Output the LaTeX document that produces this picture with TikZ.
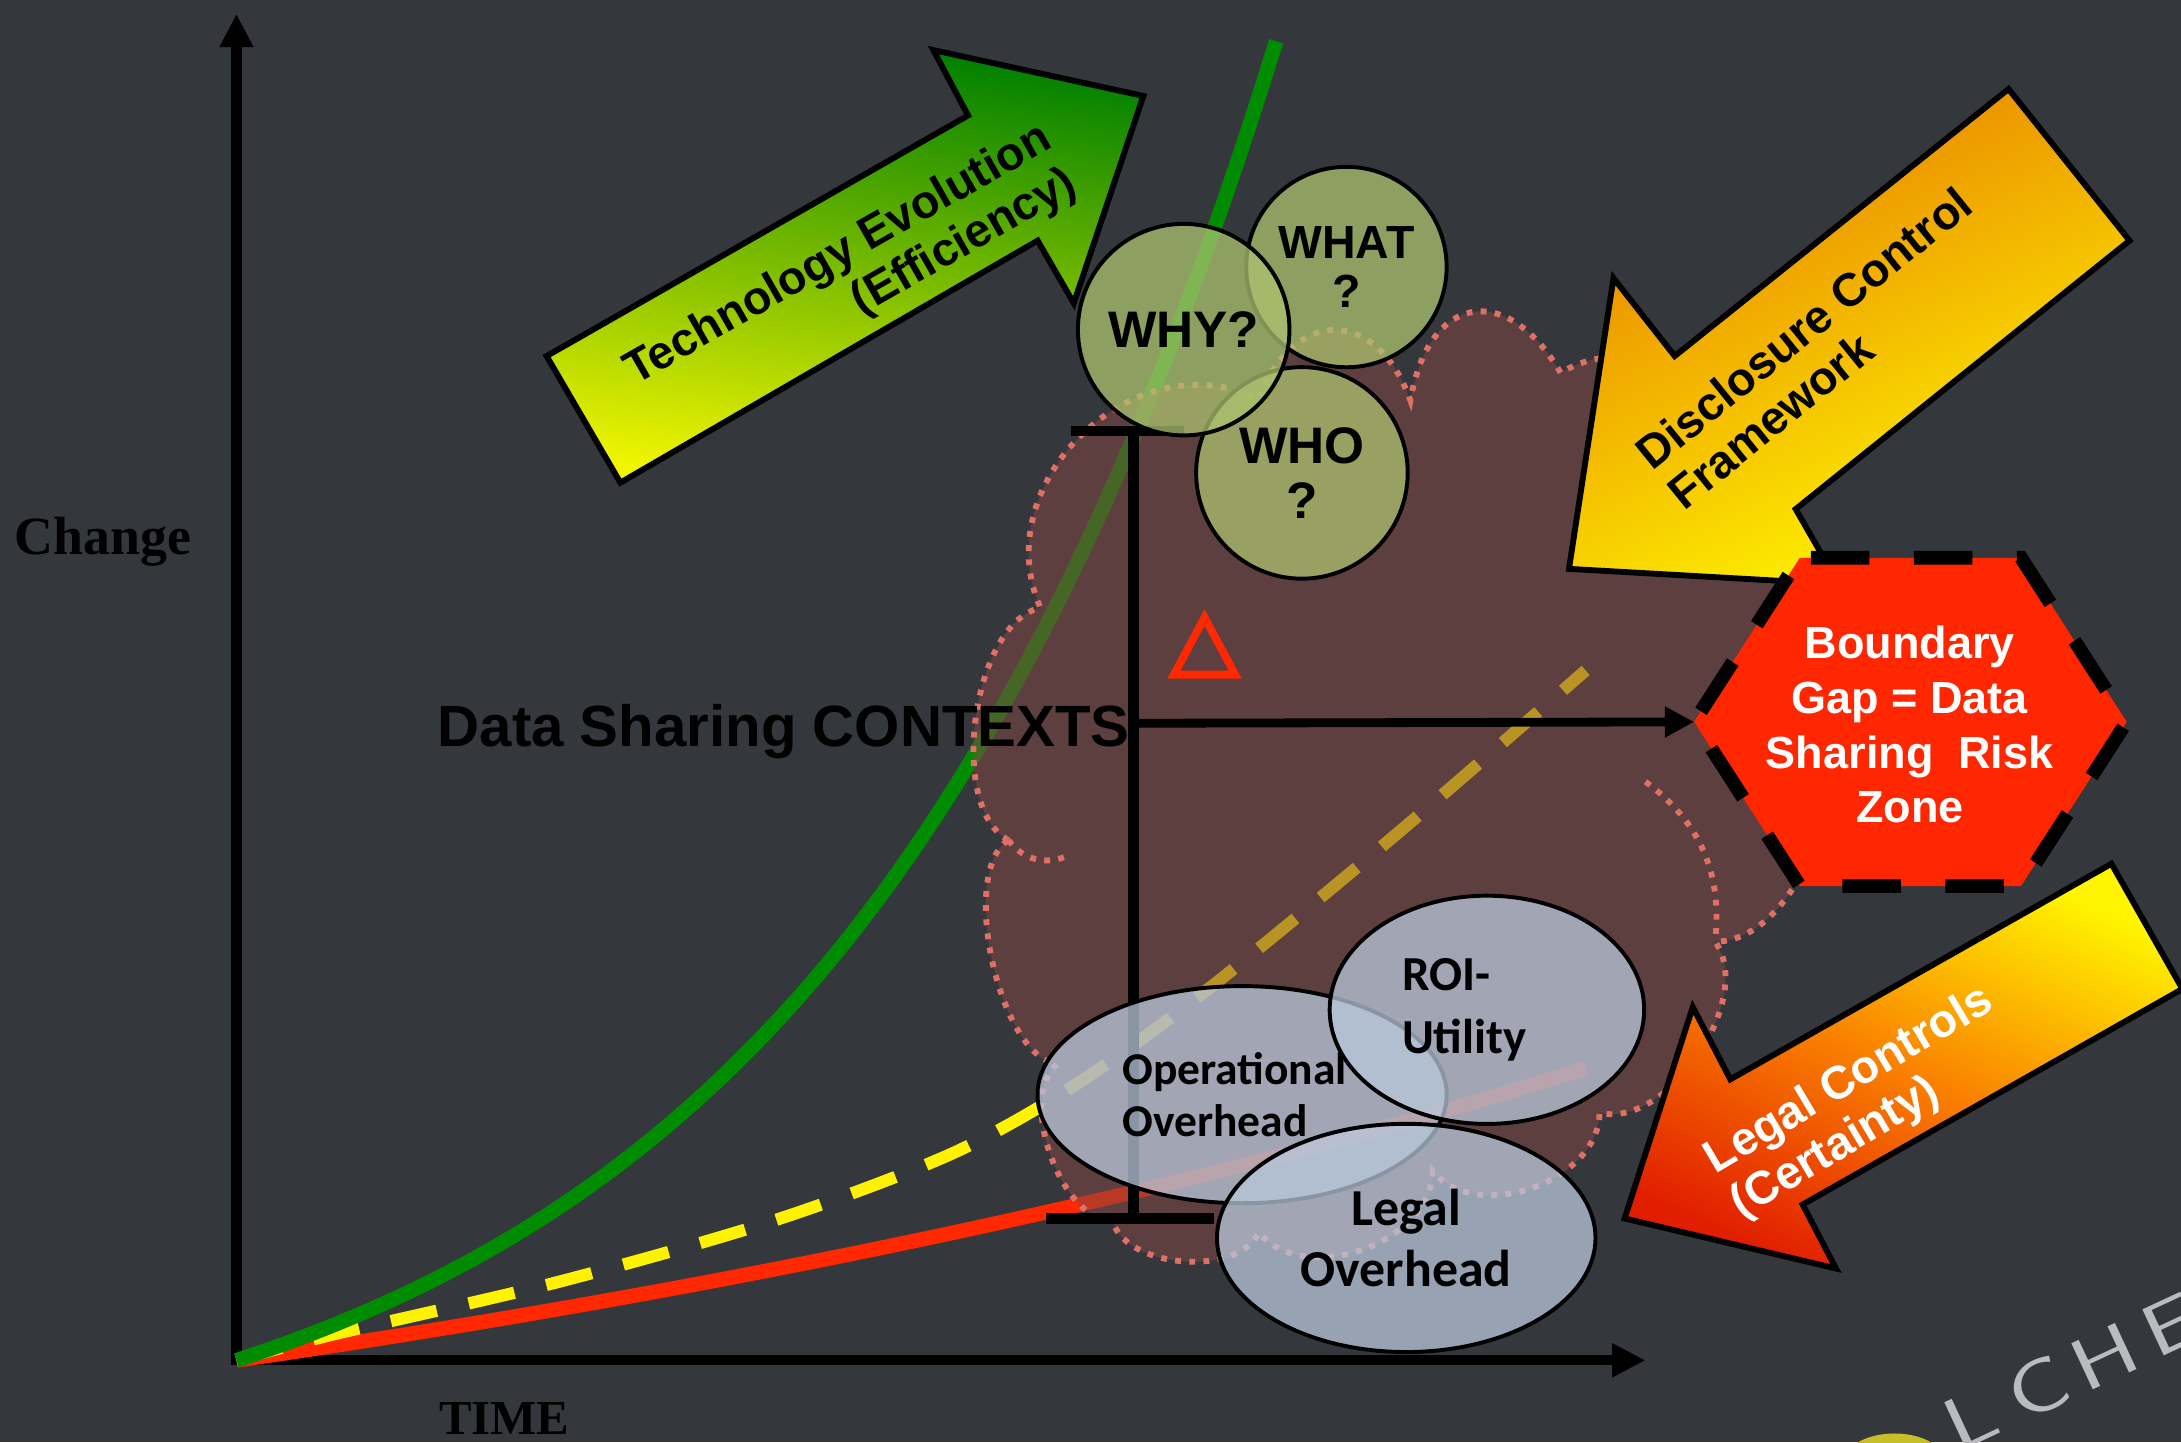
\documentclass[tikz,border=0pt]{standalone}
\usepackage{fontspec}
\setmainfont{Liberation Sans}
\newfontfamily\calfont{Carlito}
\newfontfamily\axisfont{Liberation Serif}
\usetikzlibrary{arrows.meta, shapes.geometric}

\definecolor{bgslate}{RGB}{52,55,59}
\definecolor{curvegreen}{RGB}{0,140,0}
\definecolor{curvered}{RGB}{255,40,0}
\definecolor{cloudfill}{RGB}{128,71,68}
\definecolor{clouddot}{RGB}{222,112,102}
\definecolor{qfill}{RGB}{172,195,111}
\definecolor{ofill}{RGB}{185,200,220}
\definecolor{techgreen}{RGB}{0,128,0}
\definecolor{techyellow}{RGB}{240,245,0}
\definecolor{dcforange}{RGB}{232,125,0}
\definecolor{dcfyellow}{RGB}{255,250,0}
\definecolor{legyellow}{RGB}{255,245,0}
\definecolor{legorange}{RGB}{250,130,0}
\definecolor{legred}{RGB}{225,30,0}
\definecolor{riskred}{RGB}{255,38,0}
\definecolor{wmgrey}{RGB}{185,187,190}
\definecolor{blobyellow}{RGB}{200,190,40}

\tikzset{
  axisline/.style={line width=2.1pt, line join=miter,
    {Triangle[length=6.8pt, width=6.5pt]}-{Triangle[length=6.8pt, width=6.5pt]}},
  barline/.style={line width=2.1pt},
  gaparrow/.style={line width=1.8pt, -{Triangle[length=6pt, width=6pt]}},
  puff/.style={bend left=70, looseness=#1},
  clouddots/.style={draw=clouddot, line width=1.2pt, dash pattern=on 1.2pt off 1.7pt},
  question/.style={circle, draw=black, line width=0.8pt, fill=qfill, fill opacity=0.75,
    text opacity=1, inner sep=0pt, align=center},
  overhead/.style={ellipse, draw=black, line width=0.8pt, fill=ofill, fill opacity=0.75,
    text opacity=1, inner sep=0pt},
  blockarrow/.style={draw=black, line width=1.2pt, line join=miter},
  arrowtext/.style={font=\bfseries\fontsize{9.5}{10.5}\selectfont, inner sep=0pt},
  riskzone/.style={fill=riskred, draw=black, line width=2.8pt,
    dash pattern=on 11.95pt off 9.1pt, dash phase=18.8pt},
  axislabel/.style={font=\axisfont\bfseries\fontsize{11}{13}\selectfont, inner sep=0pt},
  wmark/.style={text=wmgrey, font=\sffamily\fontsize{15}{15}\selectfont, rotate=25, inner sep=0pt},
}

\begin{document}
\begin{tikzpicture}[x=0.01cm, y=-0.01cm]
\def\oX{170}
\def\oY{978}
\useasboundingbox (0,0) rectangle (1568,1037);
\clip (0,0) rectangle (1568,1037);
\fill[bgslate] (0,0) rectangle (1568,1037);

% axes
\coordinate (origin) at (\oX,\oY);
\coordinate (ytop) at (\oX,10);
\coordinate (xend) at (1183,\oY);
\draw[axisline] (ytop) -- (origin) -- (xend);

% the three growth curves
\draw[curvered, line width=3pt] (origin) .. controls (500,930) and (850,860) .. (1140,768);
\draw[yellow, line width=2.5pt, dash pattern=on 9.6pt off 6.7pt]
  plot[smooth] coordinates {(170,978) (237,960) (400,922) (555,878) (683,830)
    (773,780) (870,710) (1006,598) (1140,482)};
\draw[curvegreen, line width=3pt]
  plot[domain=0:1, samples=80] ({\oX+748*\x}, {\oY-950*(exp(2.3*\x)-1)/(exp(2.3)-1)});

% context cloud
\path[fill=cloudfill, fill opacity=0.55, clouddots]
  (725,604) to[puff=0.76] (748,437) to[puff=1.16] (905,287) to[puff=1.67] (1014,288)
  to[puff=1.8] (1122,268) to[puff=1.2] (1250,372) to[puff=1.0] (1292,515)
  to[puff=0.9] (1233,677) to[puff=0.87] (1150,800) to[puff=1.0] (1030,842)
  to[puff=1.0] (905,886) to[puff=0.86] (800,878) to[puff=0.8] (760,765)
  to[puff=0.66] (725,604) -- cycle;
\draw[clouddots] (1183,562) to[bend left=30] (1233,677);
\draw[clouddots] (725,604) to[bend right=40] (768,615);

\node[font=\bfseries\fontsize{11.9}{14}\selectfont, inner sep=0pt, anchor=base east]
  (ctx) at (813,537) {Data Sharing CONTEXTS};

% range bar
\coordinate (bartop) at (815,310);
\coordinate (barbot) at (815,876);
\coordinate (barmid) at (815,520);
\draw[barline] (770,310) -- (851,310) (bartop) -- (barbot) (752,876) -- (873,876);

\draw[curvered, line width=1.6pt] (866,444) -- (888,485) -- (844,485) -- cycle;

% questions
\node[question, minimum size=1.44cm, font=\bfseries\fontsize{9.5}{9.9}\selectfont]
  (what) at (968,192) {WHAT\\?};
\node[question, minimum size=1.52cm, font=\bfseries\fontsize{10.5}{11.2}\selectfont]
  (who) at (936,340) {WHO\\?};
\node[question, minimum size=1.52cm, font=\bfseries\fontsize{10.5}{11.2}\selectfont]
  (why) at (851,237) {WHY?};

% overheads
\node[overhead, minimum width=2.94cm, minimum height=1.56cm, text width=1.72cm, align=left,
  font=\calfont\bfseries\fontsize{9.3}{10.6}\selectfont] (ops) at (893,787) {Operational\\Overhead\\[-3pt]};
\node[overhead, minimum width=2.26cm, minimum height=1.64cm, text width=1.22cm, align=left,
  font=\calfont\bfseries\fontsize{10}{12.7}\selectfont] (roi) at (1069,726) {ROI-\\Utility};
\node[overhead, minimum width=2.72cm, minimum height=1.64cm, align=center,
  font=\calfont\bfseries\fontsize{10.6}{12.5}\selectfont] (legal) at (1011,890) {Legal\\Overhead};

% block arrows
\draw[blockarrow, top color=techgreen, bottom color=techyellow, shading angle=-8]
  (393,256) -- (696,83) -- (671,36) -- (822,69) -- (772,218) -- (746,173) -- (446,347) -- cycle;
\node[arrowtext, rotate=29.7, align=right] (techtxt) at (612,200) {Technology Evolution\\(Efficiency)};

\draw[blockarrow, top color=dcforange, bottom color=dcfyellow, shading angle=25]
  (1444,64) -- (1531,173) -- (1291,366) -- (1322,420) -- (1128,409) -- (1160,200) -- (1204,256) -- cycle;
\node[arrowtext, rotate=39, align=left] (dcftxt) at (1308,250) {Disclosure Control\\Framework};

\draw[blockarrow, top color=legyellow, bottom color=legred, middle color=legorange, shading angle=-25]
  (1518,621) -- (1569,711) -- (1296,866) -- (1320,912) -- (1168,876) -- (1217,724) -- (1244,776) -- cycle;
\node[arrowtext, text=white, rotate=30.7, align=left] (legtxt) at (1339,793) {Legal Controls\\(Certainty)};

% risk zone
\coordinate (hexW) at (1218,519);
\draw[riskzone] (1294,401) -- (1453,401) -- (1529,519) -- (1453,637) -- (1294,637) -- (hexW) -- cycle;
\node[align=center, text=white, font=\bfseries\fontsize{9.2}{11.2}\selectfont, inner sep=0pt]
  (gap) at (1373,521) {Boundary\\Gap = Data\\Sharing~ Risk\\Zone};
\draw[gaparrow] (barmid) -- (hexW);

% axis labels
\node[axislabel, anchor=base west] (chg) at (10,399) {Change};
\node[axislabel, anchor=base west, font=\axisfont\bfseries\fontsize{10}{12}\selectfont] (time) at (315,1031) {TIME};

% logo in the corner
\draw[blobyellow, line width=2.5pt] (1362,1052) ellipse [x radius=0.32cm, y radius=0.17cm];
\foreach \ch [count=\k from 0] in {L,C,H,E}
  \node[wmark] (wm\k) at ({1417+48*\k}, {1020-22.5*\k}) {\scalebox{1.3}[1]{\ch}};
\end{tikzpicture}
\end{document}
